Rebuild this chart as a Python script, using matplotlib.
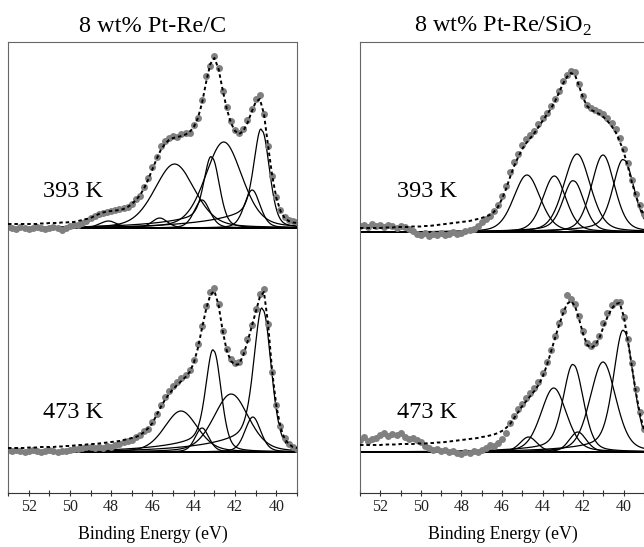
import numpy as np
import matplotlib
matplotlib.use('Agg')
from matplotlib import pyplot as plt
from matplotlib.ticker import MultipleLocator

plt.rcParams['font.family'] = ['Liberation Serif', 'DejaVu Serif']
plt.rcParams['mathtext.fontset'] = 'custom'
plt.rcParams['mathtext.rm'] = 'Liberation Serif'

# binding energy of the measured points, 0.2 eV steps
energy = np.linspace(53.0, 39.0, 71)

# Re 4f counts (a.u., above the baseline), Pt-Re/C
c393 = [1, 0, -1, 1, 0, -1, 0, 1, 0, -1,
        0, 1, 0, -2, 0, 2, 3, 3, 5, 7,
        10, 12, 14, 15, 16, 17, 18, 19, 20, 21,
        24, 29, 32, 41, 50, 61, 71, 82, 87, 90,
        92, 91, 94, 95, 95, 103, 110, 128, 152, 162,
        172, 160, 137, 121, 107, 98, 95, 99, 108, 119,
        129, 133, 114, 82, 52, 31, 18, 11, 8, 7, 6]
c473 = [2, 1, 2, 1, 0, 1, 2, 1, 0, 1,
        2, 1, 0, 1, 1, 2, 3, 3, 4, 5,
        5, 4, 5, 4, 6, 5, 7, 8, 10, 11,
        12, 15, 17, 21, 23, 30, 38, 47, 55, 61,
        66, 70, 74, 77, 82, 92, 108, 126, 146, 160,
        164, 148, 121, 103, 93, 89, 90, 100, 113, 127,
        143, 158, 163, 128, 80, 47, 26, 14, 8, 5, 3]

# Re 4f counts, Pt-Re/SiO2
si393 = [6, 7, 5, 8, 6, 7, 5, 7, 6, 4,
         6, 5, 3, 1, -2, -3, -1, -4, -2, -3,
         -1, -3, -2, 0, -2, -1, 1, 2, 3, 6,
         10, 13, 16, 21, 27, 36, 46, 60, 70, 78,
         87, 93, 97, 101, 108, 114, 119, 126, 133, 141,
         151, 157, 161, 160, 148, 136, 127, 124, 122, 120,
         118, 114, 109, 103, 94, 83, 69, 52, 38, 27, 18]
si473 = [12, 15, 11, 13, 14, 17, 19, 16, 18, 17,
         19, 15, 13, 14, 12, 10, 6, 4, 2, 3,
         1, 2, 0, 1, -1, -2, 0, -1, 1, 0,
         2, 4, 7, 6, 9, 13, 19, 29, 36, 43,
         48, 54, 59, 64, 70, 79, 90, 102, 116, 129,
         141, 157, 153, 148, 136, 121, 109, 106, 109, 116,
         129, 139, 147, 150, 150, 135, 113, 89, 63, 40, 23]

# fit envelopes (dashed lines), same energies
c393_fit = [4, 4, 4, 4, 4, 4, 4, 4, 4.5, 4.5,
            5, 5, 5, 5.5, 5.5, 6, 6, 7, 8, 9,
            10, 12, 14, 15.5, 16.5, 17, 17.5, 18, 19, 21,
            24, 28, 33, 40, 49, 59, 69, 78, 84, 88,
            90, 91, 92, 93.5, 96, 101, 110, 125, 146, 164,
            170, 159, 138, 119, 105, 97, 94, 97, 105, 116,
            126, 129, 114, 82, 52, 30, 17, 10, 7, 5.5, 5]
c473_fit = [4, 4, 4, 4, 4, 4.5, 4.5, 4.5, 5, 5,
            5, 5, 5.5, 5.5, 6, 6, 6.5, 7, 7, 7.5,
            8, 8, 8.5, 9, 9.5, 10, 10.5, 11, 12, 13,
            14, 15, 17, 20, 24, 29, 37, 45, 52, 58,
            63, 67, 71, 75, 80, 89, 104, 124, 143, 157,
            161, 147, 121, 101, 91, 87, 88, 97, 110, 125,
            140, 155, 160, 128, 80, 46, 25, 13, 8, 5, 4]
si393_fit = [4, 4, 4, 4, 4, 4, 4.5, 4.5, 4.5, 5,
             5, 5, 5, 5.5, 5.5, 5.5, 6, 6, 6.5, 7,
             7.5, 8, 8.5, 9, 9.5, 10, 10.5, 11, 12, 13,
             14, 15.5, 17, 20, 25, 33, 43, 55, 66, 75,
             83, 89, 94, 99, 105, 111, 117, 123, 130, 139,
             148, 155, 159, 157, 146, 134, 126, 122, 120, 118,
             115, 111, 106, 100, 91, 80, 66, 50, 36, 25, 17]
si473_fit = [7, 7, 7, 7, 7, 7, 7.5, 7.5, 7.5, 7.5,
             8, 8, 8, 8, 8.5, 8.5, 8.5, 9, 9, 9.5,
             9.5, 10, 10.5, 11, 11.5, 12, 12.5, 13, 13.5, 14,
             15, 15.5, 16.5, 17.5, 19, 21, 24, 28, 34, 40,
             46, 51, 56, 61, 67, 75, 86, 99, 113, 126,
             138, 148, 151, 146, 133, 118, 107, 104, 107, 114,
             125, 135, 143, 148, 149, 136, 112, 86, 60, 38, 22]

# fitted components: centre (eV), height, fwhm (eV), tail
c393_peaks = [(40.69, 97, 0.85, 0.2), (41.17, 38, 0.9, 0.0),
              (42.55, 86, 2.1, 0.0), (43.11, 70, 0.85, 0.2),
              (43.60, 28, 0.9, 0.0), (44.93, 64, 2.3, 0.0),
              (45.65, 10, 0.9, 0.0), (48.13, 7, 1.0, 0.0)]
c473_peaks = [(40.65, 142, 0.95, 0.15), (41.14, 35, 0.9, 0.0),
              (42.19, 58, 2.0, 0.0), (43.03, 101, 0.85, 0.15),
              (43.60, 24, 0.8, 0.0), (44.62, 41, 1.9, 0.0)]
si393_peaks = [(39.99, 72, 1.2, 0.08), (41.02, 77, 1.35, 0.0),
               (42.30, 78, 1.55, 0.0), (42.46, 51, 1.2, 0.08),
               (43.42, 56, 1.35, 0.0), (44.77, 57, 1.55, 0.0)]
si473_peaks = [(39.99, 121, 1.15, 0.08), (41.02, 90, 1.5, 0.0),
               (42.26, 20, 1.0, 0.0), (42.47, 87, 1.15, 0.08),
               (43.45, 64, 1.5, 0.0), (44.69, 15, 1.0, 0.0)]

# baseline offsets of the two temperatures
offsets = {'393 K': 265, '473 K': 41}


def peak(x, c, h, w, t):
    # GL(30) line with a metallic tail on the high binding energy side
    g = np.exp(-4 * np.log(2) * ((x - c) / w) ** 2)
    l = 1 / (1 + 4 * ((x - c) / w) ** 2)
    y = h * (0.7 * g + 0.3 * l)
    dx = np.clip(x - c, 0, None)
    y = y + h * t * (1 - np.exp(-dx / 0.3)) * np.exp(-dx / 2.5)
    return y


def draw_spectrum(ax, counts, fit, peaks, offset):
    xs = np.linspace(39.0, 53.0, 701)

    ax.axhline(offset, color='k', lw=1.4, zorder=1)
    for p in peaks:
        ax.plot(xs, peak(xs, *p) + offset, color='k', lw=0.9, zorder=1)
    ax.plot(energy, np.array(counts) + offset, 'o', color='#808080',
            ms=5.0, mew=0, zorder=2)
    ax.plot(energy, np.array(fit) + offset, color='k', lw=1.4,
            ls=(0, (1.8, 1.5)), zorder=3)


fig = plt.figure(figsize=(6.44, 5.47), dpi=100)
ax1 = fig.add_axes([8 / 644, 54 / 547, 289 / 644, 451 / 547])
ax2 = fig.add_axes([360 / 644, 54 / 547, 286 / 644, 451 / 547])

draw_spectrum(ax1, c393, c393_fit, c393_peaks, offsets['393 K'])
draw_spectrum(ax1, c473, c473_fit, c473_peaks, offsets['473 K'])
draw_spectrum(ax2, si393, si393_fit, si393_peaks, offsets['393 K'] - 4)
draw_spectrum(ax2, si473, si473_fit, si473_peaks, offsets['473 K'])

ax1.set_xlim(53, 39)
ax2.set_xlim(53, 38.9)

for ax, title, xt in [(ax1, '8 wt% Pt-Re/C', 51.3),
                      (ax2, r'8 wt% Pt-Re/SiO$_\mathrm{2}$', 51.18)]:
    ax.set_ylim(0, 451)
    ax.set_yticks([])
    ax.xaxis.set_major_locator(MultipleLocator(2))
    ax.xaxis.set_minor_locator(MultipleLocator(1))
    ax.tick_params(axis='x', which='both', direction='inout', length=4,
                   width=0.8, labelsize=11.5, pad=2, colors='#333333',
                   labelcolor='#222222')
    for s in ax.spines.values():
        s.set_color('#666666')
        s.set_linewidth(0.8)
    ax.spines['bottom'].set_color('#333333')
    ax.set_title(title, fontsize=17.5, pad=7)
    ax.set_xlabel('Binding Energy (eV)', fontsize=12.8, labelpad=8)
    ax.text(xt, 296, '393 K', fontsize=17.5, ha='left', va='baseline')
    ax.text(xt, 75, '473 K', fontsize=17.5, ha='left', va='baseline')

fig.savefig('out.png', dpi=100)
